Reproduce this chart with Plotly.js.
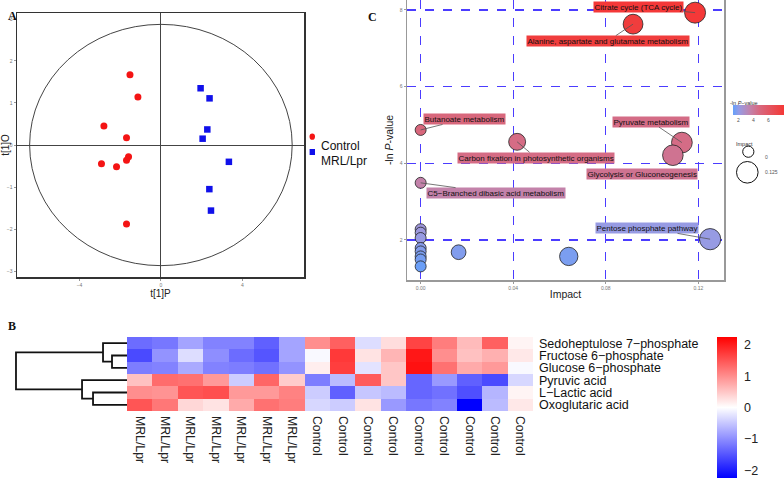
<!DOCTYPE html>
<html><head><meta charset="utf-8">
<script src="https://cdn.plot.ly/plotly-3.0.1.min.js"></script>
<style>html,body{margin:0;padding:0;background:#fff;} #chart{width:784px;height:479px;}</style>
</head><body><div id="chart"></div>
<script>
// ---------- Panel A: OPLS-DA scores ----------
const controlX = [-1.52, -1.13, -2.80, -1.69, -1.59, -1.69, -2.92, -2.18, -1.69];
const controlY = [1.67, 1.14, 0.45, 0.175, -0.28, -0.36, -0.445, -0.52, -1.88];
const mrlX = [1.95, 2.39, 2.28, 2.05, 3.34, 2.38, 2.46];
const mrlY = [1.35, 1.11, 0.37, 0.15, -0.40, -1.05, -1.56];
const ellipseSemiAxes = [6.45, 2.87]; // Hotelling T2 ellipse (t[1]P, t[1]O)
const groupNames = ["Control", "MRL/Lpr"];

// ---------- Panel C: pathway analysis ----------
const pathwayNames = [
  "Citrate cycle (TCA cycle)",
  "Alanine, aspartate and glutamate metabolism",
  "Butanoate metabolism",
  "Carbon fixation in photosynthetic organisms",
  "Pyruvate metabolism",
  "Glycolysis or Gluconeogenesis",
  "C5\u2212Branched dibasic acid metabolism",
  "Pentose phosphate pathway",
  null, null, null, null, null, null, null, null, null, null
];
const pathwayImpact = [0.1186, 0.0918, 0.0, 0.0417, 0.1129, 0.1090, 0.0, 0.1251, 0.0164, 0.0640,
                       0.0, 0.0, 0.0, 0.0, 0.0, 0.0, 0.0, 0.0];
const pathwayNegLogP = [7.93, 7.63, 4.87, 4.56, 4.54, 4.21, 3.49, 2.02, 1.68, 1.57,
                        2.28, 2.19, 2.05, 1.79, 1.70, 1.57, 1.49, 1.31];
const colorbarTicks = [2, 4, 6];
const sizeLegendValues = ["0", "0.125"];

// ---------- Panel B: heatmap ----------
const sampleLabels = ["MRL/Lpr","MRL/Lpr","MRL/Lpr","MRL/Lpr","MRL/Lpr","MRL/Lpr","MRL/Lpr",
  "Control","Control","Control","Control","Control","Control","Control","Control","Control"];
const metabolites = ["Sedoheptulose 7\u2212phosphate","Fructose 6\u2212phosphate","Glucose 6\u2212phosphate",
  "Pyruvic acid","L\u2212Lactic acid","Oxoglutaric acid"];
const sedoheptulose = [-1.3,-1.2,-0.8,-1.1,-1.1,-1.4,-0.8, 1.0,1.4,-0.3,0.3,1.65,1.15,0.6,1.4,0.1];
const fructose      = [-1.6,-0.95,-0.3,-1.0,-1.3,-1.5,-0.8, -0.05,1.75,0.25,0.65,2.05,1.0,0.55,0.7,0.2];
const glucose       = [-1.15,-1.1,-0.75,-1.1,-1.15,-1.25,-0.95, 0.15,1.7,-0.25,0.5,2.1,1.25,0.75,0.9,-0.05];
const pyruvic       = [0.55,1.3,1.25,0.9,-0.45,1.35,0.45, -1.15,-0.6,1.45,0.5,-1.35,-0.9,-1.4,-1.6,-0.35];
const lactic        = [1.0,0.95,1.5,1.55,0.9,0.9,1.1, -0.45,-1.4,-0.5,-0.6,-1.35,-1.25,-1.55,-0.65,0.1];
const oxoglutaric   = [1.5,1.2,0.35,0.25,0.75,1.25,1.15, -0.35,-0.45,0.25,-0.9,-1.2,-1.1,-2.25,-0.6,0.2];
const heatmapTicks = [-2, -1, 0, 1, 2];
// dendrogram merge heights (normalised): [F6P+G6P], [S7P+(F6P,G6P)], [Lac+Oxo], [Pyr+(Lac,Oxo)], root
const dendroHeights = [0.135, 0.216, 0.306, 0.405, 1.0];

// ---------- helpers ----------
const W = 784, H = 479;
const fx = p => p / W, fy = p => 1 - p / H;
const FONT = "Liberation Sans, Arial, sans-serif";
const SERIF = "Liberation Serif, Times New Roman, serif";

const bubbleStops = [[0, [100,160,250]], [0.118, [150,155,228]], [0.338, [195,130,170]],
                     [0.515, [215,105,128]], [0.94, [240,62,62]], [1, [245,55,55]]];
const cmin = 1.2, cmax = 8.0;
const bubbleScale = bubbleStops.map(s => [s[0], `rgb(${s[1].join(",")})`]);
function bubbleColor(v) {
  const t = Math.max(0, Math.min(1, (v - cmin) / (cmax - cmin)));
  for (let i = 1; i < bubbleStops.length; i++) {
    const [t1, c1] = bubbleStops[i - 1], [t2, c2] = bubbleStops[i];
    if (t <= t2) {
      const f = (t - t1) / (t2 - t1);
      return `rgb(${c1.map((c, k) => Math.round(c + f * (c2[k] - c))).join(",")})`;
    }
  }
  return bubbleScale[bubbleScale.length - 1][1];
}
const sizeOf = imp => 11 + 29 * Math.sqrt(imp);

// ---------- traces ----------
const traces = [];

traces.push({type:"scatter", mode:"markers", x:controlX, y:controlY, xaxis:"x", yaxis:"y", name:groupNames[0],
  marker:{symbol:"circle", size:7, color:"#f41414"}, hoverinfo:"x+y"});
traces.push({type:"scatter", mode:"markers", x:mrlX, y:mrlY, xaxis:"x", yaxis:"y", name:groupNames[1],
  marker:{symbol:"square", size:6.5, color:"#1010ea"}, hoverinfo:"x+y"});

traces.push({type:"scatter", mode:"markers", x:pathwayImpact, y:pathwayNegLogP, xaxis:"x2", yaxis:"y2",
  text: pathwayNames.map(n => n || ""),
  marker:{size:pathwayImpact.map(sizeOf), color:pathwayNegLogP, colorscale:bubbleScale, cmin:cmin, cmax:cmax,
    line:{color:"#222", width:0.8}, opacity:1,
    colorbar:{orientation:"h", x:fx(758), xanchor:"center", y:fy(104.5), yanchor:"top",
      len:51, lenmode:"pixels", thickness:10, thicknessmode:"pixels", outlinewidth:0,
      ticks:"outside", ticklen:1, tickcolor:"rgba(0,0,0,0)",
      tickvals:colorbarTicks, tickfont:{size:5, color:"#555", family:FONT}, xpad:0, ypad:0,
      title:{text:""}}},
  hoverinfo:"text+x+y"});

const zMatrix = [sedoheptulose, fructose, glucose, pyruvic, lactic, oxoglutaric];
traces.push({type:"heatmap", z:zMatrix, x:sampleLabels.map((_, i) => i), y:metabolites.map((_, i) => i),
  xaxis:"x3", yaxis:"y3", zmin:-2.25, zmax:2.25,
  colorscale:[[0,"rgb(0,0,255)"],[0.5,"rgb(255,255,255)"],[1,"rgb(255,0,0)"]],
  colorbar:{x:fx(717), xanchor:"left", y:fy(407.5), yanchor:"middle", len:141, lenmode:"pixels",
    thickness:20, thicknessmode:"pixels", outlinewidth:0, ticks:"outside", ticklen:5,
    tickcolor:"rgba(0,0,0,0)", xpad:0, ypad:0,
    tickvals:heatmapTicks, tickfont:{size:12.5, color:"#222", family:FONT}},
  hoverinfo:"z"});

// dendrogram from merge heights
const [hFG, hSFG, hLO, hPLO, hRoot] = dendroHeights;
const dx = [], dy = [];
function seg(xs, ys) { dx.push(...xs, null); dy.push(...ys, null); }
seg([0, hFG, hFG, 0], [1, 1, 2, 2]);
seg([0, hSFG, hSFG, hFG], [0, 0, 1.5, 1.5]);
seg([0, hLO, hLO, 0], [4, 4, 5, 5]);
seg([0, hPLO, hPLO, hLO], [3, 3, 4.5, 4.5]);
seg([hSFG, hRoot, hRoot, hPLO], [0.75, 0.75, 3.75, 3.75]);
traces.push({type:"scatter", mode:"lines", x:dx, y:dy, xaxis:"x4", yaxis:"y4",
  line:{color:"#111", width:1.8}, hoverinfo:"skip"});

// ---------- layout ----------
const tickSmall = {size:5, color:"#777", family:FONT};
const gridBlue = "#4b3cff";

const annotations = [
  {text:"<b>A</b>", x:fx(6), y:fy(7.5), xref:"paper", yref:"paper", showarrow:false, font:{family:SERIF, size:12, color:"#111"}},
  {text:"<b>B</b>", x:fx(6), y:fy(335), xref:"paper", yref:"paper", showarrow:false, font:{family:SERIF, size:12, color:"#111"}},
  {text:"<b>C</b>", x:fx(372), y:fy(8), xref:"paper", yref:"paper", showarrow:false, font:{family:SERIF, size:12, color:"#111"}},
  // Panel A legend text
  {text:groupNames[0], x:fx(319), y:fy(136.7), xref:"paper", yref:"paper", xanchor:"left", showarrow:false, font:{family:FONT, size:12, color:"#111"}},
  {text:groupNames[1], x:fx(319), y:fy(152), xref:"paper", yref:"paper", xanchor:"left", showarrow:false, font:{family:FONT, size:12, color:"#111"}},
  // Panel C colour legend title
  {text:"-ln <i>P</i>\u2212value", x:fx(760), y:fy(98), xref:"paper", yref:"paper", showarrow:false, font:{family:FONT, size:5.5, color:"#333"}},
  // Panel C size legend text
  {text:"Impact", x:fx(755), y:fy(139.3), xref:"paper", yref:"paper", showarrow:false, font:{family:FONT, size:5.5, color:"#333"}},
  {text:sizeLegendValues[0], x:fx(762.5), y:fy(151.7), xref:"paper", yref:"paper", xanchor:"left", showarrow:false, font:{family:FONT, size:5, color:"#555"}},
  {text:sizeLegendValues[1], x:fx(762.5), y:fy(172.3), xref:"paper", yref:"paper", xanchor:"left", showarrow:false, font:{family:FONT, size:5, color:"#555"}}
];

// pathway labels (repel-style offsets in pixels)
const labelOffsets = [[-56.5,-5.7],[-25.5,17],[43.8,-11],[19,16],[-31,-21],[-31,19],[75,10.3],[-63.5,-11.3]];
pathwayNames.forEach((n, i) => {
  if (!n) return;
  annotations.push({text:n, x:pathwayImpact[i], y:pathwayNegLogP[i], xref:"x2", yref:"y2",
    ax:labelOffsets[i][0], ay:labelOffsets[i][1], showarrow:true, arrowhead:0, arrowwidth:0.8,
    arrowcolor:"#555", standoff:0, bgcolor:bubbleColor(pathwayNegLogP[i]), borderpad:0.5,
    font:{family:FONT, size:8, color:"#111"}});
});

const shapes = [
  {type:"circle", xref:"x", yref:"y", x0:-ellipseSemiAxes[0], x1:ellipseSemiAxes[0],
   y0:-ellipseSemiAxes[1], y1:ellipseSemiAxes[1], line:{color:"#444", width:1}},
  // Panel A legend keys
  {type:"circle", xref:"paper", yref:"paper", x0:fx(309.5), x1:fx(315), y0:fy(139.8), y1:fy(133.6), fillcolor:"#f41414", line:{width:0}},
  {type:"rect", xref:"paper", yref:"paper", x0:fx(309.6), x1:fx(315), y0:fy(155), y1:fy(149), fillcolor:"#1010ea", line:{width:0}},
  // Panel C size legend keys
  {type:"circle", xref:"paper", yref:"paper", x0:fx(748.3-5.6), x1:fx(748.3+5.6), y0:fy(151.7+5.6), y1:fy(151.7-5.6), line:{color:"#111", width:1}},
  {type:"circle", xref:"paper", yref:"paper", x0:fx(747.3-10.8), x1:fx(747.3+10.8), y0:fy(172.3+10.8), y1:fy(172.3-10.8), line:{color:"#111", width:1}}
];

const layout = {
  width:W, height:H, margin:{l:0, r:0, t:0, b:0}, paper_bgcolor:"#fff", plot_bgcolor:"rgba(0,0,0,0)",
  showlegend:false, font:{family:FONT, color:"#222"},
  xaxis:{domain:[fx(17), fx(304)], range:[-7.07, 7.03], tickvals:[-4,0,4], ticks:"outside", ticklen:2,
    tickcolor:"#999", tickfont:tickSmall, showgrid:false, zeroline:true, zerolinecolor:"#444", zerolinewidth:1,
    showline:true, linecolor:"#333", linewidth:1.5, mirror:true, anchor:"y",
    title:{text:"t[1]P", font:{size:10, color:"#222"}, standoff:3}},
  yaxis:{domain:[fy(277), fy(13)], range:[-3.14, 3.14], tickvals:[-3,-2,-1,0,1,2,3], ticks:"outside", ticklen:2,
    tickcolor:"#999", tickfont:tickSmall, showgrid:false, zeroline:true, zerolinecolor:"#444", zerolinewidth:1,
    showline:true, linecolor:"#333", linewidth:1.5, mirror:true, anchor:"x",
    title:{text:"t[1]O", font:{size:10, color:"#222"}, standoff:1}},
  xaxis2:{domain:[fx(407), fx(724)], range:[-0.0059, 0.1311], tickvals:[0,0.04,0.08,0.12],
    ticktext:["0.00","0.04","0.08","0.12"], ticks:"outside", ticklen:2, tickcolor:"#999", tickfont:tickSmall,
    showgrid:true, gridcolor:gridBlue, griddash:"dash", gridwidth:1.3, zeroline:false,
    showline:true, linecolor:"#999", linewidth:1.5, mirror:false, anchor:"y2",
    title:{text:"Impact", font:{size:10.5, color:"#222"}, standoff:1}},
  yaxis2:{domain:[fy(280), 1], range:[0.955, 8.26], tickvals:[2,4,6,8], ticks:"outside", ticklen:2,
    tickcolor:"#999", tickfont:tickSmall, showgrid:true, gridcolor:gridBlue, griddash:"dash", gridwidth:1.3,
    zeroline:false, showline:true, linecolor:"#999", linewidth:1.5, mirror:true, anchor:"x2",
    title:{text:"-ln <i>P</i>-value", font:{size:10.5, color:"#222"}, standoff:4}},
  xaxis3:{domain:[fx(127), fx(533)], range:[-0.5, 15.5], tickvals:sampleLabels.map((_, i) => i),
    ticktext:sampleLabels, tickangle:90, ticks:"", ticklabelstandoff:4, tickfont:{size:12.3, color:"#222", family:FONT},
    showgrid:false, zeroline:false, showline:false, anchor:"y3"},
  yaxis3:{domain:[fy(411), fy(337)], range:[5.5, -0.5], tickvals:metabolites.map((_, i) => i),
    ticktext:metabolites, side:"right", ticks:"", ticklabelstandoff:5,
    tickfont:{size:12.5, color:"#111", family:FONT}, showgrid:false, zeroline:false, showline:false, anchor:"x3"},
  xaxis4:{domain:[fx(10), fx(127)], range:[1.054, 0], visible:false, anchor:"y4"},
  yaxis4:{domain:[fy(411), fy(337)], range:[5.5, -0.5], visible:false, anchor:"x4"},
  annotations:annotations, shapes:shapes
};

Plotly.newPlot("chart", traces, layout, {displayModeBar:false, staticPlot:true});
</script></body></html>
